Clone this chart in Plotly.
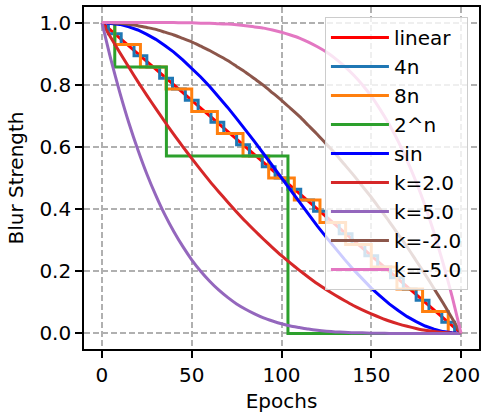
import plotly.graph_objects as go

# ---------------- data ----------------
epochs_linear = [0, 200]
linear_vals = [1.0, 0.0]

# "4n" staircase: step change epochs and levels
steps4_x = [0, 3.57, 10.71, 17.86, 25.00, 32.14, 39.29, 46.43, 53.57, 60.71, 67.86,
            75.00, 82.14, 89.29, 96.43, 103.57, 110.71, 117.86, 125.00, 132.14,
            139.29, 146.43, 153.57, 160.71, 167.86, 175.00, 182.14, 189.29, 196.43, 200]
steps4_y = [1.0, 0.964, 0.929, 0.893, 0.857, 0.821, 0.786, 0.750, 0.714, 0.679, 0.643,
            0.607, 0.571, 0.536, 0.500, 0.464, 0.429, 0.393, 0.357, 0.321,
            0.286, 0.250, 0.214, 0.179, 0.143, 0.107, 0.071, 0.036, 0.0, 0.0]

# "8n" staircase
steps8_x = [0, 7.14, 21.43, 35.71, 50.0, 64.29, 78.57, 92.86, 107.14, 121.43,
            135.71, 150.0, 164.29, 178.57, 192.86, 200]
steps8_y = [1.0, 0.929, 0.857, 0.786, 0.714, 0.643, 0.571, 0.500, 0.429, 0.357,
            0.286, 0.214, 0.143, 0.071, 0.0, 0.0]

# "2^n" staircase
steps2n_x = [0, 7.14, 35.9, 103.6, 200]
steps2n_y = [1.0, 0.857, 0.571, 0.0, 0.0]

# smooth curves, sampled every 5 epochs
epochs = list(range(0, 201, 5))
sin_vals = [1.0, 0.998, 0.994, 0.986, 0.976, 0.962, 0.946, 0.926, 0.905, 0.880,
            0.854, 0.825, 0.794, 0.761, 0.727, 0.691, 0.655, 0.617, 0.578, 0.539,
            0.500, 0.461, 0.422, 0.383, 0.345, 0.309, 0.273, 0.239, 0.206, 0.175,
            0.146, 0.120, 0.095, 0.074, 0.054, 0.038, 0.024, 0.014, 0.006, 0.002, 0.0]
k2_vals = [1.0, 0.951, 0.903, 0.856, 0.810, 0.766, 0.723, 0.681, 0.640, 0.601,
           0.563, 0.526, 0.490, 0.456, 0.423, 0.391, 0.360, 0.331, 0.303, 0.276,
           0.250, 0.226, 0.203, 0.181, 0.160, 0.141, 0.123, 0.106, 0.090, 0.076,
           0.063, 0.051, 0.040, 0.031, 0.023, 0.016, 0.010, 0.006, 0.003, 0.001, 0.0]
k5_vals = [1.0, 0.881, 0.774, 0.677, 0.591, 0.513, 0.444, 0.382, 0.328, 0.280,
           0.237, 0.200, 0.168, 0.140, 0.116, 0.095, 0.078, 0.063, 0.050, 0.040,
           0.031, 0.024, 0.019, 0.014, 0.010, 0.007, 0.005, 0.004, 0.002, 0.002,
           0.001, 0.001, 0.0, 0.0, 0.0, 0.0, 0.0, 0.0, 0.0, 0.0, 0.0]
km2_vals = [1.0, 0.999, 0.998, 0.994, 0.990, 0.984, 0.978, 0.969, 0.960, 0.949,
            0.938, 0.924, 0.910, 0.894, 0.878, 0.859, 0.840, 0.819, 0.798, 0.774,
            0.750, 0.724, 0.698, 0.669, 0.640, 0.609, 0.578, 0.544, 0.510, 0.474,
            0.438, 0.399, 0.360, 0.319, 0.278, 0.234, 0.190, 0.144, 0.098, 0.049, 0.0]
km5_vals = [1.0, 1.0, 1.0, 1.0, 1.0, 1.0, 1.0, 1.0, 1.0, 0.999,
            0.999, 0.998, 0.998, 0.996, 0.995, 0.993, 0.990, 0.986, 0.982, 0.976,
            0.969, 0.960, 0.950, 0.937, 0.922, 0.905, 0.884, 0.860, 0.832, 0.800,
            0.763, 0.720, 0.672, 0.618, 0.556, 0.487, 0.410, 0.323, 0.226, 0.119, 0.0]

x_ticks = [0, 50, 100, 150, 200]
y_ticks = [0.0, 0.2, 0.4, 0.6, 0.8, 1.0]

# ---------------- figure ----------------
LW = 3
series = [
    ("linear", epochs_linear, linear_vals, "#ff0000", "linear"),
    ("4n", steps4_x, steps4_y, "#1f77b4", "hv"),
    ("8n", steps8_x, steps8_y, "#ff7f0e", "hv"),
    ("2^n", steps2n_x, steps2n_y, "#2ca02c", "hv"),
    ("sin", epochs, sin_vals, "#0000ff", "linear"),
    ("k=2.0", epochs, k2_vals, "#d62728", "spline"),
    ("k=5.0", epochs, k5_vals, "#9467bd", "spline"),
    ("k=-2.0", epochs, km2_vals, "#8c564b", "spline"),
    ("k=-5.0", epochs, km5_vals, "#e377c2", "spline"),
]

fig = go.Figure()
for name, xs, ys, color, shape in series:
    line = dict(color=color, width=LW, shape=shape)
    if shape == "spline":
        line["smoothing"] = 0.6
    fig.add_trace(go.Scatter(x=xs, y=ys, mode="lines", name=name, line=line))

font_family = "DejaVu Sans"
axis_common = dict(
    showline=True, linecolor="black", linewidth=1.6, mirror=True,
    ticks="outside", ticklen=7, tickwidth=1.6, tickcolor="black",
    showgrid=True, gridcolor="#b0b0b0", gridwidth=1.6, griddash="6px,3px",
    zeroline=False, automargin=False,
    tickfont=dict(family=font_family, size=20, color="black"),
)

fig.update_layout(
    width=481, height=414,
    margin=dict(l=84, r=2, t=7, b=65),
    paper_bgcolor="white", plot_bgcolor="white",
    font=dict(family=font_family, size=20, color="black"),
    xaxis=dict(range=[-10, 210], tickvals=x_ticks,
               title=dict(text="Epochs", font=dict(size=20), standoff=8),
               **axis_common),
    yaxis=dict(range=[-0.05, 1.05], tickvals=y_ticks, tickformat=".1f",
               title=dict(text="Blur Strength", font=dict(size=20), standoff=10),
               **axis_common),
    legend=dict(
        x=0.972, y=0.971, xanchor="right", yanchor="top",
        bgcolor="rgba(255,255,255,0.8)", bordercolor="#cccccc", borderwidth=1,
        font=dict(family=font_family, size=20, color="black"),
        itemwidth=58, tracegroupgap=0,
    ),
    showlegend=True,
)

fig.write_html("out.html", config={"displayModeBar": False},
               post_script="document.body.style.margin='0';")
